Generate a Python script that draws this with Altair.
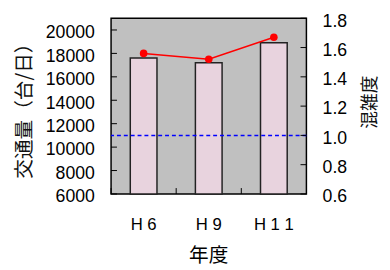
import altair as alt
import pandas as pd

# ---- data ----
years = ["H 6", "H 9", "H 1 1"]
traffic = [17600, 17200, 18900]          # 交通量 (台/日)
congestion = [1.56, 1.52, 1.67]          # 混雑度
left_ticks = [6000, 8000, 10000, 12000, 14000, 16000, 18000, 20000]
left_domain = [6000, 21000]
right_ticks = [0.6, 0.8, 1.0, 1.2, 1.4, 1.6, 1.8]
right_domain = [0.6, 1.8]
threshold = [1.0]

df = pd.DataFrame({"year": years, "traffic": traffic, "congestion": congestion})
lt = pd.DataFrame({"v": left_ticks})
rt = pd.DataFrame({"v": right_ticks})
th = pd.DataFrame({"v": threshold})

W, H = 199, 179
LAB = "Liberation Sans"
CJK = "Noto Sans CJK JP"

xscale = alt.Scale(domain=years, paddingInner=0, paddingOuter=0)
x_axis = alt.Axis(title="年度", labelAngle=0, ticks=False, domain=False,
                  labelFont=LAB, labelFontSize=17, labelPadding=31,
                  labelBaseline="middle", labelColor="black",
                  titleFont=CJK, titleFontSize=20, titleFontWeight="normal",
                  titleColor="black", titleX=99, titleY=63,
                  titleBaseline="middle", titleAlign="center")

yl_scale = alt.Scale(domain=left_domain, nice=False, zero=False)
yr_scale = alt.Scale(domain=right_domain, nice=False, zero=False)

yl_axis = alt.Axis(values=left_ticks, format="d", ticks=False, domain=False, grid=False,
                   labelFont=LAB, labelFontSize=18, labelPadding=17, labelColor="black",
                   labelBaseline="middle", labelOffset=3,
                   title="交通量（台/日）", titleFont=CJK, titleFontSize=20,
                   titleFontWeight="normal", titleColor="#111111", titleAngle=270,
                   titleX=-88, titleY=89, titleAlign="center", titleBaseline="middle")
yr_axis = alt.Axis(values=right_ticks, format=".1f", ticks=False, domain=False, grid=False,
                   orient="right",
                   labelFont=LAB, labelFontSize=18, labelPadding=16, labelColor="black",
                   labelBaseline="middle", labelOffset=3,
                   title="混雑度", titleFont=CJK, titleFontSize=18,
                   titleFontWeight="normal", titleColor="#111111", titleAngle=270,
                   titleX=65, titleY=85, titleAlign="center", titleBaseline="middle")


def X(**kw):
    return alt.X("year:N", sort=years, scale=xscale, axis=x_axis, **kw)


def YL(field):
    return alt.Y(field, scale=yl_scale, axis=yl_axis)


def YR(field):
    return alt.Y(field, scale=yr_scale, axis=yr_axis)


bars = alt.Chart(df).mark_bar(
    width=alt.RelativeBandSize(0.41), fill="#e8d3de", stroke="#222222", strokeWidth=1.5
).encode(
    x=X(),
    y=YL("traffic:Q"),
    y2=alt.datum(left_domain[0]),
)

left_tick_marks = alt.Chart(lt).mark_rule(color="black", strokeWidth=1).encode(
    y=YL("v:Q"),
    x=alt.value(0), x2=alt.value(6),
)

bottom_ticks = alt.Chart(df).mark_rule(color="black", strokeWidth=1).encode(
    x=X(bandPosition=0),
    y=alt.value(H - 6), y2=alt.value(H),
)

left = alt.layer(bars, left_tick_marks, bottom_ticks)

dashed = alt.Chart(th).mark_rule(color="#0000ff", strokeDash=[4, 3], strokeWidth=1.5,
                                  opacity=1).encode(
    y=YR("v:Q"),
)

line = alt.Chart(df).mark_line(color="#ff0000", strokeWidth=1.5).encode(
    x=X(),
    y=YR("congestion:Q"),
)
pts = alt.Chart(df).mark_circle(color="#ff0000", opacity=1, size=60).encode(
    x=X(),
    y=YR("congestion:Q"),
)
right_tick_marks = alt.Chart(rt).mark_rule(color="black", strokeWidth=1).encode(
    y=YR("v:Q"),
    x=alt.value(W - 6), x2=alt.value(W),
)

right = alt.layer(dashed, right_tick_marks, line, pts)

chart = alt.layer(left, right).resolve_scale(y="independent").properties(
    width=W, height=H,
    autosize=alt.AutoSizeParams(type="none"),
    padding={"left": 105, "top": 8, "right": 77, "bottom": 75},
    background="white",
).configure_view(
    fill="#c0c0c0", stroke="#000000", strokeWidth=1.5
)

chart.save("out.html", embed_options={"renderer": "svg", "actions": False})
